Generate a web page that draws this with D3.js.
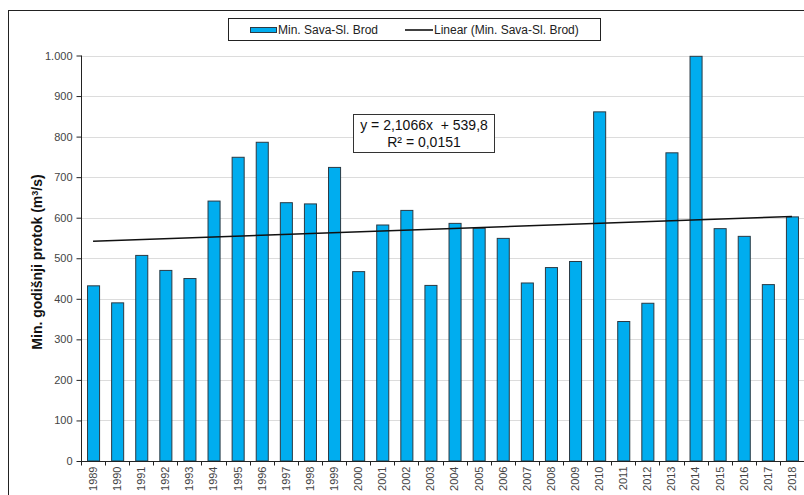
<!DOCTYPE html>
<html>
<head>
<meta charset="utf-8">
<script src="https://cdn.jsdelivr.net/npm/d3@7"></script>
<style>
  html, body { margin: 0; padding: 0; background: #fff; }
  svg { display: block; font-family: Arial, "Liberation Sans", sans-serif; }
</style>
</head>
<body>
<svg id="chart" width="804" height="495"></svg>
<script>
// ---- data ----
const years = [1989,1990,1991,1992,1993,1994,1995,1996,1997,1998,1999,2000,2001,2002,2003,
               2004,2005,2006,2007,2008,2009,2010,2011,2012,2013,2014,2015,2016,2017,2018];
const minFlow = [432,390,507,470,450,641,749,786,637,634,724,467,582,618,433,
                 586,574,549,439,477,492,861,344,389,760,998,573,554,435,602];
const yTickValues = [0,100,200,300,400,500,600,700,800,900,1000];
const trendSlope = 2.1066;
const trendIntercept = 539.8;
const trendR2 = 0.0151;
const seriesName = "Min. Sava-Sl. Brod";
const trendName = "Linear (Min. Sava-Sl. Brod)";

// ---- layout ----
const svg = d3.select("#chart");
const hr = d3.formatLocale({decimal: ",", thousands: ".", grouping: [3], currency: ["", " €"]});

const x = d3.scaleBand().domain(years).range([81, 804]).paddingInner(0.5).paddingOuter(0.25);
const y = d3.scaleLinear().domain([0, 1000]).range([461, 55.5]);

// outer frame
svg.append("rect").attr("x", 8.5).attr("y", 10.5).attr("width", 820).attr("height", 520)
  .attr("fill", "none").attr("stroke", "#222").attr("stroke-width", 1);

// gridlines
svg.append("g").selectAll("line").data(yTickValues.filter(d => d > 0)).join("line")
  .attr("x1", 81).attr("x2", 804)
  .attr("y1", d => Math.round(y(d)) + 0.5).attr("y2", d => Math.round(y(d)) + 0.5)
  .attr("stroke", "#dcdcdc").attr("stroke-width", 1);

// bars
svg.append("g").selectAll("rect").data(years).join("rect")
  .attr("x", d => x(d) + 0.5)
  .attr("y", (d, i) => y(minFlow[i]))
  .attr("width", x.bandwidth())
  .attr("height", (d, i) => y(0) - y(minFlow[i]))
  .attr("fill", "#00adef")
  .attr("stroke", "#2b3a44").attr("stroke-width", 1);

// trend line
const trendPts = [0, years.length - 1].map(i => [x(years[i]) + x.bandwidth() / 2, y(trendIntercept + trendSlope * (i + 1))]);
svg.append("path").attr("d", d3.line()(trendPts))
  .attr("fill", "none").attr("stroke", "#111").attr("stroke-width", 1.6);

// y axis
const yAxis = svg.append("g").attr("transform", "translate(81.5,0)")
  .call(d3.axisLeft(y).tickValues(yTickValues).tickSize(5).tickPadding(4).tickFormat(hr.format(",d")));
yAxis.select(".domain").attr("stroke", "#222").attr("d", `M0,${y(1000)}V${y(0)}`);
yAxis.selectAll(".tick line").attr("stroke", "#222");
yAxis.selectAll("text").attr("font-size", 11).attr("fill", "#444").attr("font-family", "Arial, 'Liberation Sans', sans-serif");

// x axis
const xAxis = svg.append("g").attr("transform", `translate(0,${y(0) + 0.5})`)
  .call(d3.axisBottom(x).tickSize(0));
xAxis.select(".domain").attr("stroke", "#222").attr("d", "M81,0H804");
xAxis.selectAll("text")
  .attr("transform", "rotate(-90)")
  .attr("x", -5).attr("y", 0).attr("dy", "0.35em")
  .attr("text-anchor", "end")
  .attr("font-size", 11).attr("fill", "#444")
  .attr("font-family", "Arial, 'Liberation Sans', sans-serif");
const step = x.step();
const boundaries = years.map(d => x(d) - (step - x.bandwidth()) / 2).concat([804]);
xAxis.append("g").selectAll("line").data(boundaries).join("line")
  .attr("x1", d => Math.round(d) + 0.5).attr("x2", d => Math.round(d) + 0.5)
  .attr("y1", 0).attr("y2", 4).attr("stroke", "#222");

// y title
svg.append("text")
  .attr("transform", "translate(42,262) rotate(-90)")
  .attr("text-anchor", "middle")
  .attr("font-size", 14).attr("font-weight", "bold").attr("fill", "#111")
  .call(t => {
    t.append("tspan").text("Min. godišnji protok (m");
    t.append("tspan").attr("font-size", 9).attr("dy", "-0.5em").text("3");
    t.append("tspan").attr("dy", "0.32em").text("/s)");
  });

// legend
const lg = svg.append("g");
lg.append("rect").attr("x", 228.5).attr("y", 18.5).attr("width", 372).attr("height", 22)
  .attr("fill", "#fff").attr("stroke", "#222");
lg.append("rect").attr("x", 250.5).attr("y", 27.5).attr("width", 26).attr("height", 5)
  .attr("fill", "#00adef").attr("stroke", "#2b3a44");
lg.append("text").attr("x", 278).attr("y", 34).attr("font-size", 12).attr("fill", "#222").text(seriesName);
lg.append("line").attr("x1", 405).attr("x2", 433).attr("y1", 30).attr("y2", 30)
  .attr("stroke", "#111").attr("stroke-width", 1.6);
lg.append("text").attr("x", 434).attr("y", 34).attr("font-size", 12).attr("fill", "#222").text(trendName);

// equation box
const fmt4 = hr.format(".4f"), fmt1 = hr.format(".1f");
const eq = svg.append("g");
eq.append("rect").attr("x", 353.5).attr("y", 114.5).attr("width", 141).attr("height", 38)
  .attr("fill", "#fff").attr("stroke", "#333");
eq.append("text").attr("x", 424).attr("y", 130).attr("text-anchor", "middle")
  .attr("font-size", 14).attr("fill", "#111")
  .text(`y = ${fmt4(trendSlope)}x\u00a0 + ${fmt1(trendIntercept)}`);
eq.append("text").attr("x", 424).attr("y", 147).attr("text-anchor", "middle")
  .attr("font-size", 14).attr("fill", "#111")
  .text(`R² = ${fmt4(trendR2)}`);
</script>
</body>
</html>
